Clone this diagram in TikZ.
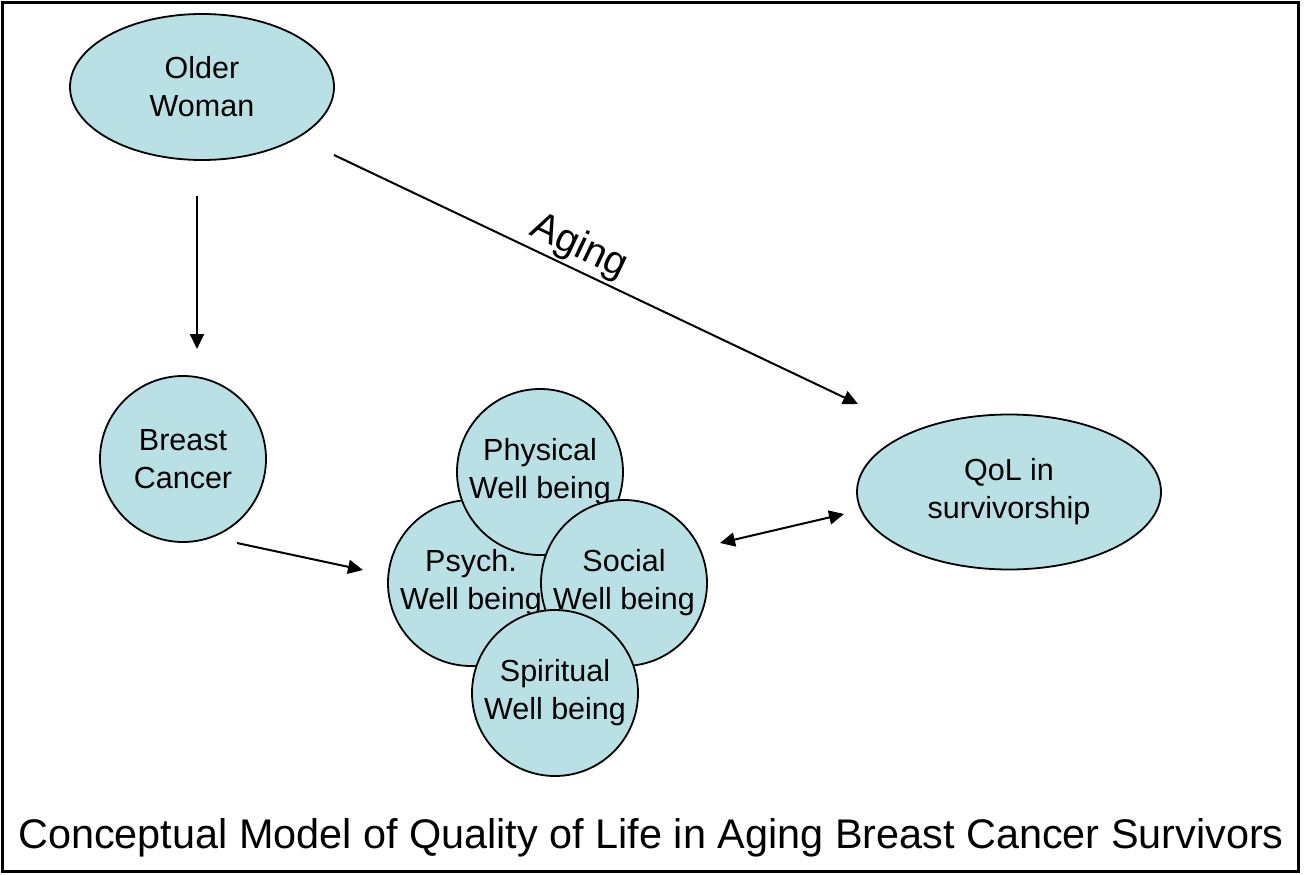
\documentclass[tikz,border=0pt]{standalone}
\usepackage{fontspec}
\setmainfont{Liberation Sans}
\usetikzlibrary{shapes.geometric,arrows.meta}
\definecolor{bubble}{RGB}{185,224,228}
\begin{document}
\begin{tikzpicture}[x=1pt,y=-1pt,
  blob/.style={draw=black,line width=1.8pt,fill=bubble,inner sep=0pt,align=center,font=\fontsize{30.5}{38}\selectfont},
  circ/.style={blob,circle,minimum size=166pt},
  ell/.style={blob,ellipse},
  arr/.style={line width=2pt,-{Triangle[length=15pt,width=14pt]}},
  darr/.style={line width=2pt,{Triangle[length=15pt,width=14pt]}-{Triangle[length=15pt,width=14pt]}}]
\useasboundingbox (0,0) rectangle (1304,875);
\draw[line width=3pt] (2.5,2.5) rectangle (1298.5,871.5);
\node[ell,minimum width=264pt,minimum height=146pt] (ow) at (202,87) {Older\\Woman};
\node[circ] (bc) at (183,459) {Breast\\Cancer};
\node[ell,minimum width=304pt,minimum height=155pt] (qol) at (1009,492) {QoL in\\survivorship};
\node[circ] (psy) at (471,583) {Psych.\\Well being};
\node[circ] (phy) at (540,472) {Physical\\Well being};
\node[circ] (soc) at (624,583) {Social\\Well being};
\node[circ] (spi) at (555,693) {Spiritual\\Well being};
\coordinate (a1) at (197,196); \coordinate (a2) at (197,349);
\coordinate (b1) at (334,155); \coordinate (b2) at (858,404);
\coordinate (c1) at (237,543); \coordinate (c2) at (363,570);
\coordinate (d1) at (720,543); \coordinate (d2) at (844,514);
\draw[arr] (a1) -- (a2);
\draw[arr] (b1) -- node[pos=0.45,above=-1pt,sloped,font=\fontsize{40}{46}\selectfont]{Aging} (b2);
\draw[arr] (c1) -- (c2);
\draw[darr] (d1) -- (d2);
\node[font=\fontsize{41.4}{46}\selectfont] (cap) at (651,838) {Conceptual Model of Quality of Life in Aging Breast Cancer Survivors};
\end{tikzpicture}
\end{document}
